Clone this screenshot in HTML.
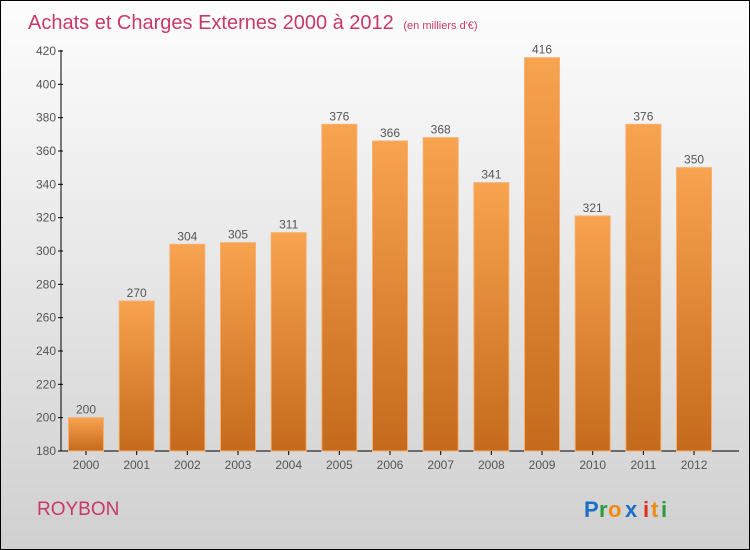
<!DOCTYPE html>
<html><head><meta charset="utf-8"><style>
body{margin:0;width:750px;height:550px;overflow:hidden}
#root{position:relative;width:748px;height:548px;border:1px solid #000;background:linear-gradient(#fdfdfd,#d0d0d0);font-family:"Liberation Sans",sans-serif}
</style></head><body>
<div id="root">
<svg width="748" height="548" style="position:absolute;left:0;top:0" id="svg">
<defs><linearGradient id="bg" x1="0" y1="0" x2="0" y2="1"><stop offset="0" stop-color="#f8a34f"/><stop offset="1" stop-color="#c56a1c"/></linearGradient></defs>
<text x="27" y="28" font-size="20" fill="#c8386a">Achats et Charges Externes 2000 à 2012 <tspan font-size="11" dx="4">(en milliers d'€)</tspan></text>
<text x="36" y="514" font-size="19" fill="#c8386a">ROYBON</text>
<g font-size="22" font-weight="bold">
<text x="583" y="516" fill="#1a6fc9">P</text><text x="598" y="516" fill="#2a9a3a">r</text><text x="607" y="516" fill="#f08a10">o</text><text x="624" y="516" fill="#1a6fc9">x</text><text x="642" y="516" fill="#e03020">i</text><text x="650" y="516" fill="#f08a10">t</text><text x="660" y="516" fill="#2a9a3a">i</text>
</g>
<g id="plot"></g>
</svg>
</div>
<script>
const categories=["2000","2001","2002","2003","2004","2005","2006","2007","2008","2009","2010","2011","2012"];
const values=[200,270,304,305,311,376,366,368,341,416,321,376,350];
const yTicks=[180,200,220,240,260,280,300,320,340,360,380,400,420];
const ns="http://www.w3.org/2000/svg",g=document.getElementById("plot");
const y=v=>450-(v-180)*400/240, x=i=>85+i*50.67;
function el(t,a,p){const e=document.createElementNS(ns,t);for(const k in a)e.setAttribute(k,a[k]);(p||g).appendChild(e);return e;}
let ax=el("line",{x1:60,y1:49,x2:60,y2:450,stroke:"#000"});


let bx=el("line",{x1:60,y1:450,x2:738,y2:450,stroke:"#000"});


yTicks.forEach(t=>{el("line",{x1:57,x2:62,y1:y(t),y2:y(t),stroke:"#000"});
const tx=el("text",{x:55,y:y(t)+4,"text-anchor":"end","font-size":12,fill:"#555"});tx.textContent=t;

});
categories.forEach((c,i)=>{const v=values[i];
const r=el("rect",{x:x(i)-17.5,y:y(v),width:35,height:450-y(v),fill:"url(#bg)",stroke:"#f5b070","stroke-width":1});


el("line",{x1:x(i),x2:x(i),y1:450,y2:454,stroke:"#000"});
const l=el("text",{x:x(i),y:468,"text-anchor":"middle","font-size":12,fill:"#555"});l.textContent=c;


const vl=el("text",{x:x(i),y:y(v)-4,"text-anchor":"middle","font-size":12,fill:"#555"});vl.textContent=v;

});
</script>
</body></html>
